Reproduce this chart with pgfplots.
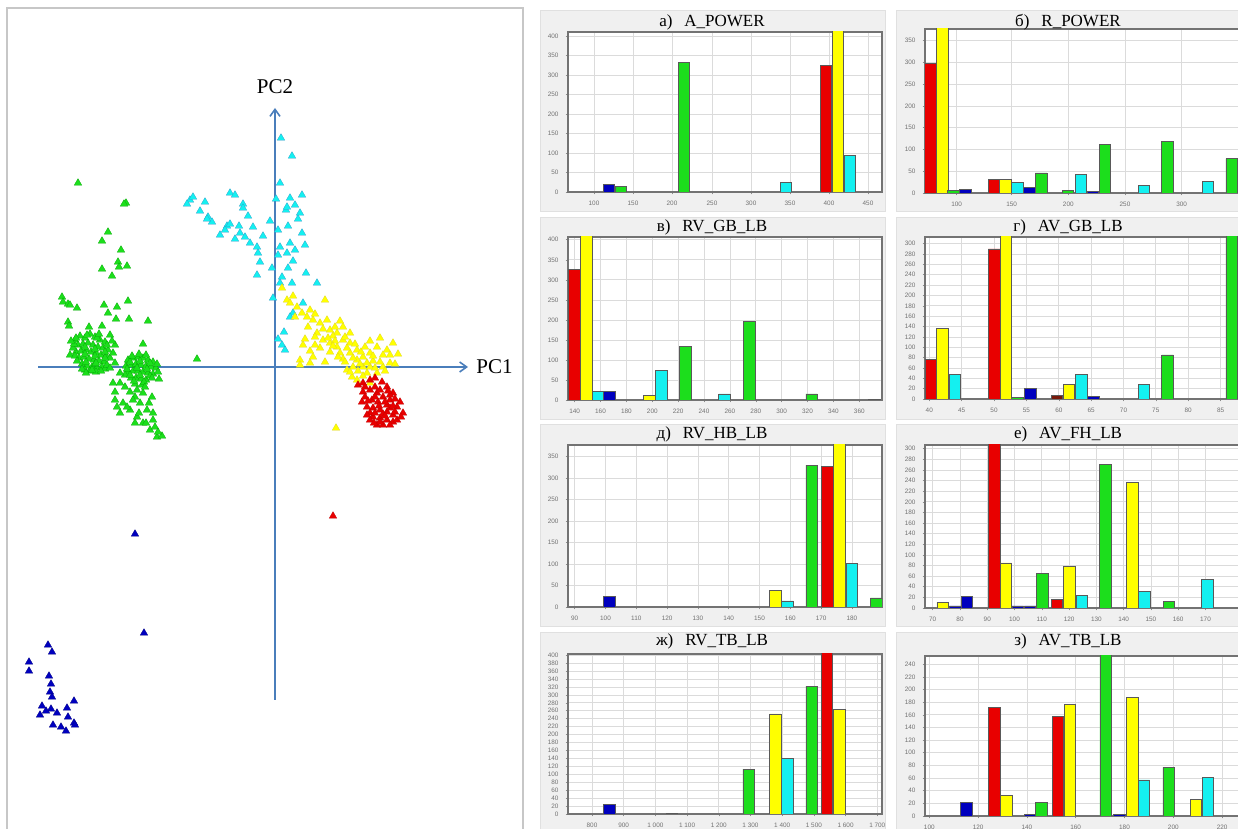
\documentclass[border=0pt]{standalone}
\usepackage{fontspec}
\setmainfont{Liberation Serif}
\newfontfamily\ticksf{Liberation Sans}
\usepackage{pgfplots}
\pgfplotsset{compat=1.18}
\usetikzlibrary{arrows.meta}

\definecolor{cRed}{RGB}{232,0,0}
\definecolor{cYel}{RGB}{255,255,0}
\definecolor{cGrn}{RGB}{28,222,28}
\definecolor{cCyn}{RGB}{20,240,240}
\definecolor{cNav}{RGB}{0,0,190}
\definecolor{cDrk}{RGB}{120,25,10}
\definecolor{axisblue}{RGB}{74,126,187}
\definecolor{panelbg}{RGB}{240,240,240}

\pgfplotsset{
  hist/.style={
    scale only axis, anchor=south west,
    enlargelimits=false, ymin=0, xmin=0,
    axis background/.style={fill=white},
    axis line style={draw=black!55, line width=0.6pt},
    grid=major,
    major grid style={draw=black!14, line width=0.35pt},
    tick style={draw=black!45, line width=0.3pt},
    major tick length=1.2pt,
    tick align=outside,
    xtick pos=bottom, ytick pos=left,
    tick label style={font=\ticksf\fontsize{3.2}{3.4}\selectfont, text=black!55},
    /pgf/number format/assume math mode=true,
    clip=true,
  },
  hb/.style={ybar, bar width=11.5, bar shift=0pt, draw=black!65, line width=0.35pt},
  pts/.style={only marks, mark=triangle*, mark size=2.2pt},
}

\newcommand{\ttl}[1]{\fontsize{8.5}{9}\selectfont #1}

\begin{document}
\begin{tikzpicture}
\clip (0,0) rectangle (619pt,414.5pt);
\fill[white] (0,0) rectangle (619pt,414.5pt);

% frame of the score plot
\draw[black!22, line width=0.6pt] (3.5pt,-5pt) -- (3.5pt,410.5pt) -- (261.5pt,410.5pt) -- (261.5pt,-5pt);

% panel backgrounds of the histograms
\foreach \yt/\yb in {409.5/309, 306/205, 202.5/101.5, 98.5/-3}{
  \fill[panelbg, draw=black!12] (270pt,\yb pt) rectangle (442.5pt,\yt pt);
  \fill[panelbg, draw=black!12] (448pt,\yb pt) rectangle (625pt,\yt pt);
}

% ---------------- PCA scores ----------------
\begin{axis}[
  at={(3.5pt,0pt)}, anchor=south west, scale only axis,
  width=258pt, height=410.5pt,
  xmin=-26.8, xmax=24.8, ymin=-46.2, ymax=35.9,
  hide axis, clip=false,
]
\draw[axisblue, line width=0.8pt, -{Straight Barb[length=3.5pt,width=5pt]}] (axis cs:-23.7,0) -- (axis cs:19.3,0);
\draw[axisblue, line width=0.8pt, -{Straight Barb[length=3.5pt,width=5pt]}] (axis cs:0,-33.3) -- (axis cs:0,25.9);
\node[anchor=west, font=\fontsize{10.5}{11}\selectfont, inner sep=0pt] at (axis cs:20.1,0) {PC1};
\node[font=\fontsize{10.5}{11}\selectfont, inner sep=0pt] at (axis cs:0,28.0) {PC2};

% green group
\addplot[pts, mark options={fill=cGrn, draw=green!65!black, line width=0.12pt}] coordinates {
(-19.7,18.4) (-14.9,16.4) (-15.1,16.3) (-16.7,13.5) (-17.3,12.6) (-15.4,11.7)
(-15.7,10.5) (-15.6,10.0) (-14.8,10.1) (-17.3,9.8) (-16.3,9.1) (-21.3,7.0)
(-21.2,6.5) (-20.7,6.3) (-20.5,6.2) (-19.8,5.9) (-17.1,6.2) (-15.8,6.0)
(-14.7,6.6) (-16.7,5.4) (-15.9,4.8) (-14.6,4.8) (-12.7,4.6) (-20.7,4.5)
(-20.6,4.1) (-18.6,4.0) (-17.3,4.1) (-16.5,3.2) (-13.2,2.3) (-16.0,2.2) (-7.8,0.8)
(-20.0,2.7) (-19.5,3.1) (-19.0,2.9) (-18.5,3.3) (-18.0,3.0) (-17.5,2.7) (-17.0,2.5)
(-19.7,2.2) (-19.2,2.3) (-18.7,2.4) (-18.2,2.2) (-17.7,2.0) (-17.2,1.9) (-16.7,1.7)
(-19.9,1.5) (-19.4,1.6) (-18.9,1.7) (-18.4,1.5) (-17.9,1.4) (-17.4,1.2) (-16.9,1.1)
(-19.6,0.9) (-19.1,1.0) (-18.6,0.8) (-18.1,0.7) (-17.6,0.6) (-17.1,0.5) (-19.3,0.3)
(-18.8,0.1) (-18.3,0.0) (-17.8,-0.1) (-17.3,0.0) (-18.5,-0.4) (-17.9,-0.5) (-16.5,0.9)
(-20.2,1.9) (-18.0,0.3) (-19.0,-0.3) (-17.0,-0.2) (-20.5,1.2) (-16.2,1.4) (-16.0,0.4)
(-19.9,2.9) (-18.8,3.2) (-17.8,2.9) (-16.8,2.2) (-20.1,2.3) (-19.0,2.0) (-18.0,1.8)
(-17.0,1.5) (-20.0,1.1) (-19.0,1.3) (-18.0,1.1) (-17.0,0.9) (-19.8,0.6) (-18.9,0.5)
(-17.9,0.4) (-16.8,0.2) (-19.3,-0.2) (-18.3,-0.3) (-17.4,-0.4) (-16.5,-0.1) (-18.9,-0.6)
(-20.4,2.6) (-16.3,2.6) (-17.6,3.3)
(-14.7,0.7) (-14.2,0.9) (-13.7,1.0) (-13.2,0.9) (-12.7,0.7) (-12.2,0.5) (-14.9,0.1)
(-14.4,0.2) (-13.9,0.3) (-13.4,0.2) (-12.9,0.1) (-12.4,0.0) (-11.9,-0.1) (-14.7,-0.5)
(-14.2,-0.4) (-13.7,-0.4) (-13.2,-0.5) (-12.7,-0.6) (-12.2,-0.7) (-14.4,-1.1) (-13.9,-1.1)
(-13.4,-1.2) (-12.9,-1.3) (-14.0,-1.7) (-13.3,-1.8) (-15.0,-0.8) (-11.7,-0.5) (-11.6,-1.2)
(-14.5,0.5) (-13.5,0.6) (-12.5,0.4) (-14.8,-0.2) (-13.8,-0.1) (-12.8,-0.2) (-11.8,0.3)
(-14.5,-0.8) (-13.5,-0.8) (-12.5,-0.9) (-14.1,-1.4) (-13.1,-1.5) (-12.3,-1.1) (-13.6,1.3)
(-12.9,1.2) (-14.3,1.1)
(-15.5,-0.6) (-16.2,-1.6) (-15.5,-1.6) (-14.5,-2.5) (-13.8,-2.3) (-13.2,-2.6) (-12.3,-3.0)
(-16.0,-2.5) (-16.0,-3.3) (-15.2,-3.6) (-14.5,-4.3) (-15.5,-4.6) (-13.8,-5.0) (-14.8,-4.0)
(-12.8,-4.3) (-12.2,-5.3) (-13.2,-5.6) (-12.5,-6.3) (-11.8,-7.0) (-11.3,-6.9) (-14.0,-3.0)
(-13.5,-3.6) (-14.0,-5.6) (-12.2,-4.6) (-15.0,-2.0) (-13.0,-2.0) (-12.6,-3.6) (-14.2,-3.3)
(-15.8,-4.0) (-13.6,-4.6) (-12.9,-5.6) (-12.0,-6.0) (-11.7,-6.5)
};

% cyan group
\addplot[pts, mark options={fill=cCyn, draw=cyan!80!black, line width=0.12pt}] coordinates {
(0.6,22.9) (1.7,21.1) (0.5,18.4) (-8.5,16.7) (-8.8,16.3) (-8.2,17.0) (-7.0,16.5)
(-4.5,17.4) (-4.0,17.2) (-3.2,16.3) (-3.2,15.9) (0.1,16.8) (1.5,16.9) (2.7,17.2)
(2.0,16.2) (1.1,15.7) (2.5,15.4) (1.2,16.0) (-2.7,15.1) (-6.7,15.0) (-6.3,14.5)
(-6.8,14.8) (-4.8,14.1) (-5.0,13.7) (-4.5,14.3) (-3.6,14.1) (-3.5,13.4) (-3.0,13.0)
(-2.5,12.4) (-1.8,12.0) (-1.2,13.1) (-1.7,11.4) (-1.5,10.5) (0.3,13.7) (1.3,14.1)
(2.7,13.4) (0.5,12.0) (1.5,12.4) (1.2,11.4) (2.0,11.7) (0.3,11.2) (-0.3,9.9)
(-1.8,9.2) (0.7,9.0) (1.3,9.9) (3.1,9.4) (0.5,8.4) (1.7,8.4) (4.2,8.4)
(2.8,6.4) (1.8,5.4) (1.5,5.0) (0.3,2.8) (0.7,2.2) (1.0,1.7)
(-5.5,13.2) (-2.2,14.0) (-7.5,15.6) (3.0,12.2) (1.8,10.6) (-0.5,14.6) (-4.0,12.8)
(2.3,14.8) (0.9,3.5) (-0.2,6.9)
};

% yellow group
\addplot[pts, mark options={fill=cYel, draw=yellow!85!black, line width=0.12pt}] coordinates {
(0.7,7.9) (1.2,6.7) (1.5,6.4) (2.2,6.0) (2.7,5.4) (3.5,5.7) (5.0,6.7)
(3.8,4.7) (4.5,4.4) (5.2,4.7) (5.5,3.7) (4.2,3.4) (6.2,3.4) (6.8,4.0)
(4.8,2.7) (5.5,2.4) (6.2,2.0) (6.8,2.7) (7.5,2.4) (6.5,1.4) (7.5,1.4)
(8.2,1.7) (2.8,2.2) (3.8,1.0) (2.5,0.7) (3.5,0.4) (8.2,0.7) (8.8,1.0)
(9.5,1.4) (10.2,2.0) (10.5,2.9) (11.2,1.7) (12.3,1.3) (11.5,0.4) (10.8,0.0)
(9.5,0.0) (8.8,0.0) (7.8,0.0) (7.2,-0.3) (7.7,-1.0) (8.2,-1.3) (9.2,-0.6)
(10.2,-0.6) (2.5,0.2) (9.5,-1.6) (6.1,-6.1)
(3.2,5.0) (4.0,5.3) (4.8,3.8) (5.8,3.1) (6.0,2.6) (7.0,3.0) (7.2,1.9)
(8.0,2.3) (8.6,1.5) (9.0,2.0) (9.8,0.6) (6.8,0.8) (5.5,1.5) (4.5,1.9)
(10.8,1.2) (11.8,2.4) (6.5,4.6) (8.3,-0.4) (10.0,-0.1) (5.0,0.5) (3.0,2.8)
(1.8,7.1) (2.0,5.0) (3.3,4.0) (4.0,3.0) (5.3,2.9) (5.8,2.1) (6.3,1.0)
(7.0,0.5) (7.8,0.9) (8.5,0.3) (9.2,0.4) (9.8,1.1) (10.5,0.5) (11.0,-0.4)
(7.5,-0.5) (8.8,-0.9) (6.0,4.0) (7.5,3.4) (4.0,2.2) (3.5,1.6) (9.5,2.6)
(11.5,1.2) (12.0,0.3)
};

% red group
\addplot[pts, mark options={fill=cRed, draw=red!75!black, line width=0.12pt}] coordinates {
(8.3,-1.8) (8.8,-1.6) (9.5,-1.3) (10.0,-1.1) (10.7,-1.5) (11.2,-2.0) (11.8,-2.6)
(12.5,-3.5) (11.5,-3.3) (10.8,-3.0) (10.2,-2.6) (9.5,-2.3) (8.8,-2.5) (8.7,-3.5)
(9.2,-4.0) (9.8,-4.1) (10.5,-4.3) (11.2,-4.5) (11.8,-4.8) (11.8,-5.5) (11.2,-5.3)
(10.5,-5.1) (9.8,-5.0) (9.5,-4.6) (10.2,-5.8) (10.8,-5.8) (11.5,-5.8) (12.2,-5.3)
(9.5,-5.3) (11.2,-3.8) (10.3,-3.5) (9.7,-3.3) (12.2,-4.0) (11.5,-4.1) (5.8,-14.9)
(9.0,-3.0) (10.0,-3.0) (11.0,-3.5) (12.0,-3.2) (10.5,-2.3) (11.5,-2.8) (9.2,-4.8)
(10.8,-4.7) (12.8,-4.6) (11.8,-3.9) (12.6,-5.0)
(9.0,-2.0) (10.0,-2.0) (9.3,-3.4) (10.4,-3.9) (11.0,-4.9) (10.0,-4.6) (12.0,-4.5)
(11.3,-2.4) (10.5,-5.5) (9.9,-5.6)
};

% blue group
\addplot[pts, mark options={fill=cNav, draw=blue!50!black, line width=0.12pt}] coordinates {
(-14.0,-16.7) (-13.1,-26.6) (-22.7,-27.8) (-22.3,-28.5) (-24.6,-29.5) (-24.6,-30.4)
(-22.6,-30.9) (-22.4,-31.7) (-22.5,-32.5) (-22.3,-33.0) (-20.1,-33.4) (-23.3,-33.9)
(-22.4,-34.2) (-22.9,-34.4) (-23.5,-34.8) (-21.8,-34.6) (-20.8,-34.1) (-20.7,-35.0)
(-20.1,-35.6) (-22.2,-35.8) (-21.4,-36.0) (-20.9,-36.4) (-20.0,-35.8)
};
\end{axis}

% ---------------- histograms ----------------
% а) A_POWER
\begin{axis}[hist, at={(284pt,318.5pt)}, width=157pt, height=80pt,
  xmax=314, ymax=410, ytick={0,50,...,400},
  xtick={26,65,104,144,183,222,261,300},
  xticklabels={100,150,200,250,300,350,400,450}]
\addplot[hb, fill=cNav] coordinates {(41,19)};
\addplot[hb, fill=cGrn] coordinates {(53,15) (116,331)};
\addplot[hb, fill=cCyn] coordinates {(218,25) (282,93)};
\addplot[hb, fill=cRed] coordinates {(258,324)};
\addplot[hb, fill=cYel] coordinates {(270,420)};
\end{axis}

% б) R_POWER
\begin{axis}[hist, at={(462.5pt,318pt)}, width=160pt, height=82pt,
  xmax=320, ymax=377, ytick={0,50,...,350},
  xtick={31.7,86.7,143.3,200,256.7},
  xticklabels={100,150,200,250,300}]
\addplot[hb, fill=cRed] coordinates {(5.5,298) (69.2,32)};
\addplot[hb, fill=cYel] coordinates {(17.5,400) (80.5,32)};
\addplot[hb, fill=cGrn] coordinates {(28.3,6) (116.2,46) (143,6) (179.8,112) (242.2,118) (306.7,79)};
\addplot[hb, fill=cNav] coordinates {(40.5,8) (104.2,12) (167.8,4)};
\addplot[hb, fill=cCyn] coordinates {(92.5,25) (155.8,42) (218.8,18) (283,27)};
\end{axis}

% в) RV_GB_LB
\begin{axis}[hist, at={(284pt,214.5pt)}, width=157pt, height=81.5pt,
  xmax=314, ymax=407, ytick={0,50,...,400},
  xtick={6.7,32.5,58.4,84.3,110.2,136,161.9,187.8,213.6,239.5,265.4,291.3},
  xticklabels={140,160,180,200,220,240,260,280,300,320,340,360}]
\addplot[hb, fill=cRed] coordinates {(6.5,325)};
\addplot[hb, fill=cYel] coordinates {(18.5,420) (81.5,11)};
\addplot[hb, fill=cCyn] coordinates {(29.8,22) (93.2,73) (156.5,15)};
\addplot[hb, fill=cNav] coordinates {(41.5,22) (306.5,2)};
\addplot[hb, fill=cGrn] coordinates {(117.3,133) (181.5,196) (243.7,15)};
\end{axis}

% г) AV_GB_LB
\begin{axis}[hist, at={(462.5pt,215pt)}, width=160pt, height=81pt,
  xmax=320, ymax=313, ytick={0,20,...,300},
  xtick={4.3,36.7,69,101.4,133.8,166.1,198.5,230.8,263.2,295.6},
  xticklabels={40,45,50,55,60,65,70,75,80,85}]
\addplot[hb, fill=cRed] coordinates {(5.8,76) (69.2,290)};
\addplot[hb, fill=cYel] coordinates {(17.5,136) (80.8,320) (143.8,28)};
\addplot[hb, fill=cCyn] coordinates {(30,47) (156.2,47) (218.8,28)};
\addplot[hb, fill=cGrn] coordinates {(92.5,3) (242.5,85) (306.7,330)};
\addplot[hb, fill=cNav] coordinates {(105.2,20) (168.3,5)};
\addplot[hb, fill=cDrk] coordinates {(132,7)};
\end{axis}

% д) RV_HB_LB
\begin{axis}[hist, at={(284pt,111pt)}, width=157pt, height=81pt,
  xmax=314, ymax=377, ytick={0,50,...,350},
  xtick={6.7,37.5,68.3,99.1,129.9,160.7,191.5,222.3,253.1,283.9},
  xticklabels={90,100,110,120,130,140,150,160,170,180}]
\addplot[hb, fill=cNav] coordinates {(41.5,25)};
\addplot[hb, fill=cYel] coordinates {(207.3,39) (271.5,390)};
\addplot[hb, fill=cCyn] coordinates {(219.5,14) (283.7,101)};
\addplot[hb, fill=cGrn] coordinates {(243.7,330) (308.2,21)};
\addplot[hb, fill=cRed] coordinates {(259.5,327)};
\end{axis}

% е) AV_FH_LB
\begin{axis}[hist, at={(462.5pt,110.5pt)}, width=160pt, height=81.5pt,
  xmax=320, ymax=307, ytick={0,20,...,300},
  xtick={7.7,35,62.3,89.5,116.8,144.1,171.4,198.6,225.9,253.2,280.5},
  xticklabels={70,80,90,100,110,120,130,140,150,160,170}]
\addplot[hb, fill=cYel] coordinates {(17.7,11) (80.8,85) (144.5,79) (207.2,236)};
\addplot[hb, fill=cNav] coordinates {(30.2,4) (41.8,21) (92.8,4) (105,4)};
\addplot[hb, fill=cRed] coordinates {(69.2,320) (132,16)};
\addplot[hb, fill=cGrn] coordinates {(117.5,65) (180.3,270) (243.8,13)};
\addplot[hb, fill=cCyn] coordinates {(157,24) (219.2,32) (282.3,54)};
\end{axis}

% ж) RV_TB_LB
\begin{axis}[hist, at={(284pt,7.5pt)}, width=157pt, height=80pt,
  xmax=314, ymax=403, ytick={0,20,...,400},
  xtick={24,55.7,87.4,119.1,150.8,182.5,214.2,245.9,277.6,309.3},
  xticklabels={800,900,1 000,1 100,1 200,1 300,1 400,1 500,1 600,1 700}]
\addplot[hb, fill=cNav] coordinates {(41.5,25) (104,1)};
\addplot[hb, fill=cGrn] coordinates {(180.7,113) (243.7,322)};
\addplot[hb, fill=cYel] coordinates {(207.3,252) (271.3,263)};
\addplot[hb, fill=cCyn] coordinates {(219.5,139)};
\addplot[hb, fill=cRed] coordinates {(259,420)};
\end{axis}

% з) AV_TB_LB
\begin{axis}[hist, at={(462.5pt,6.5pt)}, width=160pt, height=80pt,
  xmax=320, ymax=253, ytick={0,20,...,240},
  xtick={4.3,53.1,101.9,150.7,199.5,248.3,297.1},
  xticklabels={100,120,140,160,180,200,220}]
\addplot[hb, fill=cNav] coordinates {(41.3,22) (105,3) (194.2,2)};
\addplot[hb, fill=cRed] coordinates {(69.5,172) (132.8,157)};
\addplot[hb, fill=cYel] coordinates {(81.5,32) (144.8,176) (207.2,188) (270.8,26)};
\addplot[hb, fill=cGrn] coordinates {(116.3,22) (180.7,260) (243.7,77)};
\addplot[hb, fill=cCyn] coordinates {(218.8,57) (282.8,61)};
\end{axis}

% panel titles, set on their baselines above each frame
\begin{scope}[every node/.style={anchor=base, inner sep=0pt}]
\node at (356pt,401pt) {\ttl{а)\hspace{0.7em}A\_POWER}};
\node at (534pt,401pt) {\ttl{б)\hspace{0.7em}R\_POWER}};
\node at (356pt,298.5pt) {\ttl{в)\hspace{0.7em}RV\_GB\_LB}};
\node at (534pt,298.5pt) {\ttl{г)\hspace{0.7em}AV\_GB\_LB}};
\node at (356pt,195pt) {\ttl{д)\hspace{0.7em}RV\_HB\_LB}};
\node at (534pt,195pt) {\ttl{е)\hspace{0.7em}AV\_FH\_LB}};
\node at (356pt,91.5pt) {\ttl{ж)\hspace{0.7em}RV\_TB\_LB}};
\node at (534pt,91.5pt) {\ttl{з)\hspace{0.7em}AV\_TB\_LB}};
\end{scope}
\end{tikzpicture}
\end{document}
